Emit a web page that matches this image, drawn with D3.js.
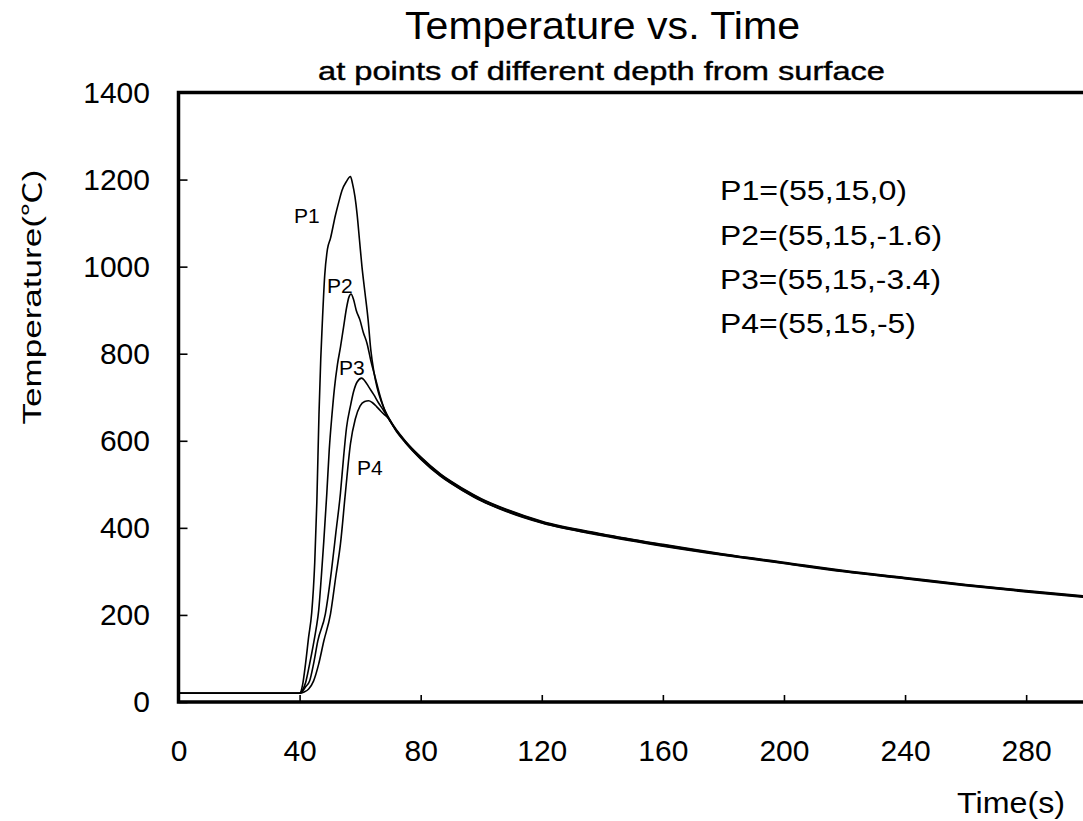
<!DOCTYPE html>
<html>
<head>
<meta charset="utf-8">
<script src="https://cdn.jsdelivr.net/npm/d3@7/dist/d3.min.js"></script>
<style>
  html, body { margin: 0; padding: 0; background: #fff; }
  svg { display: block; }
  text { font-family: "Liberation Sans", Arial, sans-serif; fill: #000; }
</style>
</head>
<body>
<svg id="chart" width="1083" height="821"></svg>
<script>
// ---------------- data ----------------
const title = "Temperature vs. Time";
const subtitle = "at points of different depth from surface";
const xLabel = "Time(s)";
const yLabelMain = "Temperature(";
const yLabelUnit = "\u2103";
const yLabelEnd = ")";
const xTicks = [0, 40, 80, 120, 160, 200, 240, 280];
const yTicks = [0, 200, 400, 600, 800, 1000, 1200, 1400];
const seriesNames = ["P1", "P2", "P3", "P4"];
const legendLines = ["P1=(55,15,0)", "P2=(55,15,-1.6)", "P3=(55,15,-3.4)", "P4=(55,15,-5)"];

const p1Time = [0, 40, 41, 42, 43, 44, 45, 45.7, 46.4, 47, 47.5, 48.3, 49.2, 50.2, 51.8, 53, 54, 55.5, 56.8, 57.5, 58.3, 59, 59.8, 60.6, 61.6, 62.6, 63.5, 64.5, 65.6, 67, 68.3,
  70, 75, 80, 86.5, 90, 97.5, 100, 108.5, 120, 140, 160, 180, 200, 220, 240, 260, 280, 300];
const p1Temp = [20, 20, 40, 90, 150, 205, 320, 460, 660, 790, 870, 980, 1040, 1065, 1117, 1150, 1175, 1196, 1207, 1190, 1160, 1120, 1060, 1000, 940, 880, 810, 760, 722, 690, 668,
  646, 599, 563, 524, 507, 476, 467, 442, 415, 386, 362, 340, 321, 302, 286, 270, 256, 243];

const p2Time = [0, 40, 41, 42, 43.3, 44.5, 45.5, 46.3, 47.2, 48, 49, 49.8, 50.7, 51.5, 52.5, 53.5, 54.5, 55.5, 56.3, 57, 57.8, 58.7, 60, 61, 62.3, 63.5, 65, 66.5, 68,
  70, 75, 80, 86.5, 90, 97.5, 100, 108.5, 120, 140, 160, 180, 200, 220, 240, 260, 280, 300];
const p2Temp = [20, 20, 28, 45, 87, 130, 170, 210, 290, 370, 480, 580, 660, 720, 775, 815, 860, 905, 930, 937, 925, 900, 876, 850, 823, 785, 745, 705, 672,
  644, 598, 562, 523, 506, 475, 466, 441, 414, 385, 361, 339, 320, 301, 285, 269, 255, 242];

const p3Time = [0, 40, 41, 42, 43.3, 44.6, 46, 48.5, 50.5, 52, 53.5, 54.5, 55.5, 56.8, 57.8, 59, 60.5, 61.5, 63, 64.5, 66, 67.8,
  70, 75, 80, 86.5, 90, 97.5, 100, 108.5, 120, 140, 160, 180, 200, 220, 240, 260, 280, 300];
const p3Temp = [20, 20, 25, 35, 48, 87, 140, 202, 300, 390, 480, 560, 630, 680, 712, 735, 744, 738, 722, 706, 688, 669,
  644, 596, 559, 520, 503, 472, 463, 438, 412, 383, 359, 338, 319, 300, 284, 268, 254, 241];

const p4Time = [0, 40, 41.5, 43, 44.6, 46.3, 48, 50.2, 52, 53.5, 55.1, 56.8, 58.4, 60, 61.5, 62.8, 64, 65.5, 66.7, 68, 69.3,
  72, 75, 80, 86.5, 90, 97.5, 100, 108.5, 120, 140, 160, 180, 200, 220, 240, 260, 280, 300];
const p4Temp = [20, 20, 23, 30, 48, 87, 140, 202, 290, 363, 478, 593, 650, 680, 690, 692, 688, 678, 669, 660, 652,
  621, 595, 558, 519, 502, 471, 462, 437, 411, 382, 358, 337, 318, 299, 283, 267, 253, 240];

const seriesTimes = [p1Time, p2Time, p3Time, p4Time];
const seriesTemps = [p1Temp, p2Temp, p3Temp, p4Temp];

// ---------------- layout ----------------
const svg = d3.select("#chart");
const x = d3.scaleLinear().domain([0, 300]).range([178.5, 1086.7]);
const y = d3.scaleLinear().domain([0, 1400]).range([702, 92.5]);

// curves
const line = d3.line()
  .x(d => x(d[0]))
  .y(d => y(d[1]))
  .curve(d3.curveMonotoneX);

const plot = svg.append("g");
seriesTimes.forEach((ts, i) => {
  const pts = ts.map((t, k) => [t, seriesTemps[i][k]]);
  plot.append("path")
    .datum(pts)
    .attr("fill", "none")
    .attr("stroke", "#000")
    .attr("stroke-width", 1.6)
    .attr("stroke-linejoin", "round")
    .attr("d", line);
});

// axes
const fmt = d3.format("d");
const yAxis = d3.axisLeft(y).tickValues(yTicks).tickFormat(fmt).tickSizeInner(-9).tickSizeOuter(0).tickPadding(28.5);
const gy = svg.append("g").attr("transform", `translate(${x(0)},0)`).call(yAxis);
gy.select(".domain").remove();
gy.selectAll(".tick line").attr("stroke", "#000").attr("stroke-width", 1.6);
gy.selectAll(".tick text").attr("font-size", 30).attr("font-family", "Liberation Sans, Arial, sans-serif");

const xAxis = d3.axisBottom(x).tickValues(xTicks).tickFormat(fmt).tickSizeInner(-7).tickSizeOuter(0).tickPadding(38);
const gx = svg.append("g").attr("transform", `translate(0,${y(0)})`).call(xAxis);
gx.select(".domain").remove();
gx.selectAll(".tick line").attr("stroke", "#000").attr("stroke-width", 1.6);
gx.selectAll(".tick text").attr("font-size", 30).attr("font-family", "Liberation Sans, Arial, sans-serif");

// frame
svg.append("path")
  .attr("d", `M${x(300)},${y(1400)} H${x(0)} V${y(0)} H${x(300)}`)
  .attr("fill", "none")
  .attr("stroke", "#000")
  .attr("stroke-width", 3.5);

// titles
svg.append("text").attr("x", 602.5).attr("y", 39).attr("text-anchor", "middle")
  .attr("font-size", 39).attr("textLength", 395).attr("lengthAdjust", "spacingAndGlyphs").text(title);
svg.append("text").attr("x", 601.5).attr("y", 80).attr("text-anchor", "middle")
  .attr("font-size", 26).attr("stroke", "#000").attr("stroke-width", 0.4)
  .attr("textLength", 567).attr("lengthAdjust", "spacingAndGlyphs").text(subtitle);

// axis titles
const yl = svg.append("text").attr("transform", "translate(41,297) rotate(-90)").attr("text-anchor", "middle")
  .attr("font-size", 25).attr("textLength", 255).attr("lengthAdjust", "spacingAndGlyphs");
yl.append("tspan").text(yLabelMain);
yl.append("tspan").attr("font-family", "Noto Sans CJK SC, DejaVu Sans, sans-serif").text(yLabelUnit);
yl.append("tspan").text(yLabelEnd);
svg.append("text").attr("x", 957).attr("y", 813)
  .attr("font-size", 30).attr("textLength", 108).attr("lengthAdjust", "spacingAndGlyphs").text(xLabel);

// legend text block
const legendY = [200, 245, 289, 333];
const legendW = [187, 222, 221, 196];
legendLines.forEach((s, i) => {
  svg.append("text").attr("x", 720).attr("y", legendY[i])
    .attr("font-size", 27).attr("textLength", legendW[i]).attr("lengthAdjust", "spacingAndGlyphs").text(s);
});

// series labels on the curves
const labelPos = [[294, 223], [327, 293], [339, 375], [357, 475]];
seriesNames.forEach((s, i) => {
  svg.append("text").attr("x", labelPos[i][0]).attr("y", labelPos[i][1])
    .attr("font-size", 21).text(s);
});
</script>
</body>
</html>
